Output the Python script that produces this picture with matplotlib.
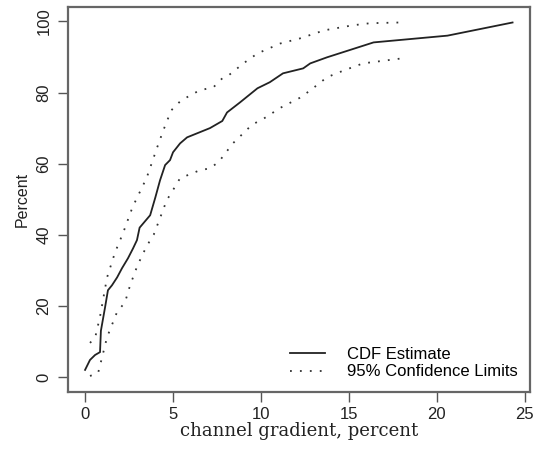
import numpy as np
import matplotlib.pyplot as plt

# CDF estimate (channel gradient %, cumulative percent)
cdf_x = [0.0, 0.28, 0.57, 0.85, 0.9, 1.14, 1.3, 1.53, 1.82, 2.1, 2.44, 2.73, 2.95,
         3.1, 3.7, 4.0, 4.26, 4.55, 4.83, 5.0, 5.4, 5.8, 6.5, 7.1, 7.8, 8.07, 8.8,
         9.8, 10.5, 11.25, 12.4, 12.8, 13.75, 16.4, 20.6, 24.3]
cdf_y = [2.0, 4.8, 6.2, 7.0, 13.0, 19.7, 24.4, 25.8, 28.0, 30.6, 33.4, 36.2, 38.5,
         42.0, 45.5, 50.6, 55.3, 59.6, 61.0, 63.2, 65.7, 67.4, 68.8, 70.0, 72.0, 74.4, 77.2,
         81.2, 82.9, 85.4, 86.8, 88.2, 89.9, 94.1, 96.0, 99.7]

# upper 95% confidence limit
up_x = [0.28, 0.57, 0.85, 1.25, 1.7, 2.16, 2.7, 3.5, 4.1, 4.45, 4.9, 5.4, 5.8,
        6.5, 7.3, 7.8, 8.2, 9.0, 9.8, 11.1, 12.2, 13.6, 15.2, 16.2, 17.9]
up_y = [9.6, 11.0, 17.0, 28.0, 35.0, 40.5, 47.8, 56.0, 64.6, 69.4, 75.0, 77.5, 78.7,
        80.6, 81.5, 84.0, 85.0, 88.2, 91.0, 93.8, 95.2, 97.5, 98.9, 99.5, 99.7]

# lower 95% confidence limit
lo_x = [0.28, 0.74, 0.97, 1.25, 1.82, 2.27, 2.56, 2.95, 3.3, 3.7, 3.9, 4.36, 4.64,
        5.1, 5.4, 5.8, 6.5, 7.1, 7.6, 8.4, 9.5, 10.1, 11.1, 12.2, 12.8, 13.75, 14.7,
        15.8, 18.0]
lo_y = [0.3, 1.1, 5.6, 11.2, 18.3, 21.0, 25.8, 31.0, 34.8, 38.5, 40.0, 46.0, 49.7,
        53.4, 55.9, 56.7, 58.1, 58.7, 60.5, 65.7, 71.0, 72.5, 75.7, 78.5, 80.6, 84.3, 86.2,
        88.2, 89.6]

plt.rcParams['font.family'] = ['Liberation Sans', 'DejaVu Sans']
fig = plt.figure(figsize=(5.38, 4.5), dpi=100)
ax = fig.add_axes([0.1264, 0.129, 0.859, 0.855])

ax.plot(cdf_x, cdf_y, color='#222222', lw=1.3, label='CDF Estimate')
ax.plot(up_x, up_y, color='#333333', lw=1.3, linestyle=(0, (1, 4.5)),
        label='95% Confidence Limits')
ax.plot(lo_x, lo_y, color='#333333', lw=1.3, linestyle=(0, (1, 4.5)))

ax.set_xlim(-0.97, 25.3)
ax.set_ylim(-4.2, 104)
ax.set_xticks([0, 5, 10, 15, 20, 25])
ax.set_yticks([0, 20, 40, 60, 80, 100])
for lab in ax.get_yticklabels():
    lab.set_rotation(90)
    lab.set_va('center')
ax.tick_params(labelsize=12, length=7, width=1, color='#555555', labelcolor='#222222')
ax.tick_params(axis='y', pad=5)
for s in ax.spines.values():
    s.set_color('#666666')
    s.set_linewidth(1.6)

ax.set_ylabel('Percent', fontsize=11.5, color='#222222', labelpad=5)
ax.set_xlabel('channel gradient, percent', fontsize=13, family='DejaVu Serif',
              color='#222222', labelpad=0)

ax.legend(loc='lower right', frameon=False, fontsize=12, handlelength=2.1,
          labelspacing=0.15, borderaxespad=0.35, handletextpad=1.3)

fig.savefig('out.png', dpi=100)
